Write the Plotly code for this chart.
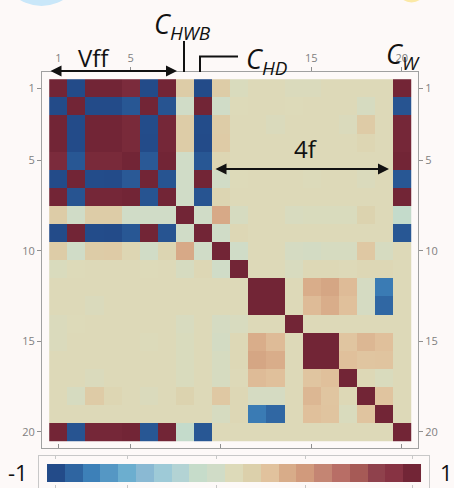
import plotly.graph_objects as go

# ---------------- data ----------------
labels = [1, 2, 3, 4, 5, 6, 7, 8, 9, 10, 11, 12, 13, 14, 15, 16, 17, 18, 19, 20]
tick_vals = [1, 5, 10, 15, 20]
top_tick_text = ["1", "5", "", "15", "20"]
side_tick_text = ["1", "5", "10", "15", "20"]

r01 = [1.00, -0.96, 0.96, 0.96, 0.91, -0.96, 0.95, 0.12, -0.96, 0.12, -0.03, 0.01, 0.01, -0.02, -0.02, 0.01, 0.01, 0.01, 0.01, 0.95]
r02 = [-0.96, 1.00, -0.96, -0.96, -0.91, 0.96, -0.92, -0.10, 0.96, -0.10, 0.00, 0.01, 0.01, 0.00, 0.01, 0.01, 0.01, -0.05, 0.01, -0.92]
r03 = [0.96, -0.96, 1.00, 0.97, 0.92, -0.95, 0.94, 0.12, -0.95, 0.12, 0.01, 0.01, -0.02, 0.01, 0.01, 0.01, -0.02, 0.13, 0.01, 0.94]
r04 = [0.96, -0.96, 0.97, 1.00, 0.92, -0.96, 0.94, 0.12, -0.96, 0.13, 0.01, 0.01, 0.01, 0.01, 0.01, 0.01, 0.01, 0.04, 0.01, 0.94]
r05 = [0.91, -0.91, 0.92, 0.92, 1.00, -0.90, 0.97, -0.10, -0.91, 0.04, 0.01, 0.01, 0.01, 0.01, 0.01, 0.01, 0.01, 0.01, 0.01, 0.97]
r06 = [-0.96, 0.96, -0.95, -0.96, -0.90, 1.00, -0.92, -0.10, 0.96, -0.09, 0.00, 0.01, 0.01, 0.01, -0.01, 0.01, 0.01, -0.02, 0.01, -0.91]
r07 = [0.95, -0.92, 0.94, 0.94, 0.97, -0.92, 1.00, -0.10, -0.92, 0.05, 0.01, 0.01, 0.01, 0.01, 0.01, 0.01, 0.01, 0.01, 0.01, 0.97]
r08 = [0.12, -0.10, 0.12, 0.12, -0.10, -0.10, -0.10, 1.00, -0.10, 0.30, -0.05, 0.01, 0.01, -0.04, -0.03, -0.03, -0.03, 0.07, 0.01, -0.20]
r09 = [-0.96, 0.96, -0.95, -0.96, -0.91, 0.96, -0.92, -0.10, 1.00, -0.10, 0.03, 0.01, 0.01, 0.01, 0.01, 0.01, 0.01, 0.01, 0.01, -0.91]
r10 = [0.12, -0.10, 0.12, 0.13, 0.04, -0.09, 0.05, 0.30, -0.10, 1.00, -0.10, 0.01, 0.01, -0.06, -0.07, -0.05, -0.05, 0.15, -0.05, 0.01]
r11 = [-0.03, 0.00, 0.01, 0.01, 0.01, 0.00, 0.01, -0.05, 0.03, -0.10, 1.00, 0.01, 0.01, -0.04, 0.02, 0.02, 0.01, 0.03, 0.03, 0.01]
r12 = [0.01, 0.01, 0.01, 0.01, 0.01, 0.01, 0.01, 0.01, 0.01, 0.01, 0.01, 1.00, 0.97, 0.01, 0.28, 0.32, 0.22, -0.06, -0.78, 0.01]
r13 = [0.01, 0.01, -0.02, 0.01, 0.01, 0.01, 0.01, 0.01, 0.01, 0.01, 0.01, 0.97, 1.00, 0.01, 0.22, 0.28, 0.20, -0.06, -0.85, 0.01]
r14 = [-0.02, 0.00, 0.01, 0.01, 0.01, 0.01, 0.01, -0.04, 0.01, -0.06, -0.04, 0.01, 0.01, 1.00, 0.01, 0.01, 0.01, 0.01, 0.01, 0.01]
r15 = [-0.02, 0.01, 0.01, 0.01, 0.01, -0.01, 0.01, -0.03, 0.01, -0.07, 0.02, 0.28, 0.22, 0.01, 1.00, 0.96, 0.17, 0.24, 0.20, 0.01]
r16 = [0.01, 0.01, 0.01, 0.01, 0.01, 0.01, 0.01, -0.03, 0.01, -0.05, 0.02, 0.32, 0.28, 0.01, 0.96, 1.00, 0.20, 0.17, 0.18, 0.01]
r17 = [0.01, 0.01, -0.02, 0.01, 0.01, 0.01, 0.01, -0.03, 0.01, -0.05, 0.01, 0.22, 0.20, 0.01, 0.17, 0.20, 1.00, 0.02, -0.03, 0.01]
r18 = [0.01, -0.05, 0.13, 0.04, 0.01, -0.02, 0.01, 0.07, 0.01, 0.15, 0.03, -0.06, -0.06, 0.01, 0.24, 0.17, 0.02, 1.00, 0.18, 0.01]
r19 = [0.01, 0.01, 0.01, 0.01, 0.01, 0.01, 0.01, 0.01, 0.01, -0.05, 0.03, -0.78, -0.85, 0.01, 0.20, 0.18, -0.03, 0.18, 1.00, 0.01]
r20 = [0.95, -0.92, 0.94, 0.94, 0.97, -0.91, 0.97, -0.20, -0.91, 0.01, 0.01, 0.01, 0.01, 0.01, 0.01, 0.01, 0.01, 0.01, 0.01, 1.00]
corr = [r01, r02, r03, r04, r05, r06, r07, r08, r09, r10,
        r11, r12, r13, r14, r15, r16, r17, r18, r19, r20]

# colour legend: 21 discrete steps from -1 to 1
legend_steps = [0, 1, 2, 3, 4, 5, 6, 7, 8, 9, 10, 11, 12, 13, 14, 15, 16, 17, 18, 19, 20]
legend_colors = ["#234b89", "#2f65a1", "#3d80b8", "#5597c4", "#6caecf", "#8ab9d3",
                 "#9ecad7", "#b3d3d4", "#c6dcca", "#d0dcc7", "#dddab9", "#dcd0ab",
                 "#e1c29d", "#d8ac89", "#d19a7c", "#c48573", "#b86e66", "#a65a56",
                 "#8f414c", "#873343", "#722536"]

# ---------------- styling helpers ----------------
W, H = 454, 488
n = len(legend_colors)
cs_main = [[0.0, legend_colors[0]]]
for k, c in enumerate(legend_colors):
    cs_main.append([(k + 0.5) / n, c])
cs_main.append([1.0, legend_colors[-1]])
cs_leg = [[k / (n - 1), c] for k, c in enumerate(legend_colors)]


def px(x):
    return x / W


def py(y):
    return 1 - y / H


BG = "#fdf9f8"
TICK_FONT = dict(family="Open Sans", size=11, color="#808080")
ANN_FONT = dict(family="Open Sans", size=24, color="#111111")
C_FONT = dict(family="Open Sans", size=27, color="#111111")

fig = go.Figure()
fig.add_trace(go.Heatmap(z=corr, x=labels, y=labels, colorscale=cs_main,
                         zmin=-1, zmax=1, showscale=False, hoverinfo="z"))
fig.add_trace(go.Scatter(x=[None], y=[None], xaxis="x2", yaxis="y2",
                         showlegend=False, hoverinfo="skip"))
fig.add_trace(go.Heatmap(z=[legend_steps], x=legend_steps, y=[0], colorscale=cs_leg,
                         zmin=legend_steps[0], zmax=legend_steps[-1], showscale=False,
                         xaxis="x3", yaxis="y3", hoverinfo="skip"))

xdom = [px(42), px(418)]
ydom = [py(448), py(72)]
rng = [0.1, 20.9]

fig.update_layout(
    width=W, height=H,
    margin=dict(l=0, r=0, t=0, b=0),
    paper_bgcolor=BG, plot_bgcolor=BG,
    showlegend=False,
    xaxis=dict(domain=xdom, range=rng, tickvals=tick_vals, showticklabels=False,
               ticks="inside", ticklen=4, tickcolor="#909090",
               showline=True, mirror=True, linecolor="#a0a0a0", linewidth=1,
               showgrid=False, zeroline=False, anchor="y"),
    xaxis2=dict(overlaying="x", side="top", range=rng, tickvals=tick_vals,
                ticktext=top_tick_text, ticks="outside", ticklen=4, tickcolor="#909090",
                tickfont=TICK_FONT, showline=False, showgrid=False, zeroline=False,
                anchor="y", ticklabelstandoff=1),
    yaxis=dict(domain=ydom, range=[20.9, 0.1], tickvals=tick_vals, ticktext=side_tick_text,
               ticks="outside", ticklen=4, tickcolor="#909090", tickfont=TICK_FONT,
               showline=True, mirror=True, linecolor="#a0a0a0", linewidth=1,
               showgrid=False, zeroline=False, anchor="x"),
    yaxis2=dict(overlaying="y", side="right", range=[20.9, 0.1], tickvals=tick_vals,
                ticktext=side_tick_text, ticks="outside", ticklen=4, tickcolor="#909090",
                tickfont=TICK_FONT, showline=False, showgrid=False, zeroline=False,
                anchor="x"),
    xaxis3=dict(domain=[px(39), px(429)], range=[-0.95, 20.95], tickvals=[0, 4, 9, 14, 20],
                showticklabels=False, ticks="inside", ticklen=3, tickcolor="#c8c8c8",
                showline=True, mirror="ticks", linecolor="#c8c8c8", showgrid=False,
                zeroline=False, anchor="y3"),
    yaxis3=dict(domain=[0, py(456)], range=[-0.833, 0.944], showticklabels=False,
                showline=True, mirror=True, linecolor="#c8c8c8", showgrid=False,
                zeroline=False, anchor="x3", ticks=""),
)

shapes = [
    # decorative circles peeking at the top
    dict(type="circle", xref="paper", yref="paper", x0=px(0), x1=px(83), y0=py(6), y1=py(-77),
         fillcolor="#c9e7f9", line=dict(width=0), layer="below"),
    dict(type="circle", xref="paper", yref="paper", x0=px(397), x1=px(426), y0=py(2.5), y1=py(-27),
         fillcolor="#fbe9a6", line=dict(width=0), layer="below"),
    # C_HWB marker line
    dict(type="line", xref="paper", yref="paper", x0=px(184), x1=px(184), y0=py(41), y1=py(72),
         line=dict(color="#111111", width=2)),
    # C_HD bracket
    dict(type="rect", xref="paper", yref="paper", x0=px(201), x1=px(238), y0=py(57), y1=py(71),
         fillcolor=BG, line=dict(width=0)),
    dict(type="path", xref="paper", yref="paper",
         path=f"M {px(200)},{py(72)} L {px(200)},{py(56.5)} L {px(238)},{py(56.5)}",
         line=dict(color="#111111", width=2)),
]
fig.update_layout(shapes=shapes)

anns = [
    # double arrows
    dict(xref="paper", yref="paper", x=px(177), y=py(71), ax=-128, ay=0, text="",
         showarrow=True, arrowside="end+start", arrowhead=2, startarrowhead=2,
         arrowsize=1.1, startarrowsize=1.1, arrowwidth=2, arrowcolor="#111111"),
    dict(xref="paper", yref="paper", x=px(389), y=py(169), ax=-175, ay=0, text="",
         showarrow=True, arrowside="end+start", arrowhead=2, startarrowhead=2,
         arrowsize=1.1, startarrowsize=1.1, arrowwidth=2, arrowcolor="#111111"),
    # labels
    dict(xref="paper", yref="paper", x=px(94), y=py(58), text="Vff", showarrow=False,
         font=ANN_FONT, xanchor="center", yanchor="middle"),
    dict(xref="paper", yref="paper", x=px(306), y=py(148), text="4f", showarrow=False,
         font=ANN_FONT, xanchor="center", yanchor="middle"),
    dict(xref="paper", yref="paper", x=px(152), y=py(25), text="<i>C</i><sub><i>HWB</i></sub>",
         showarrow=False, font=C_FONT, xanchor="left", yanchor="middle"),
    dict(xref="paper", yref="paper", x=px(244), y=py(60), text="<i>C</i><sub><i>HD</i></sub>",
         showarrow=False, font=C_FONT, xanchor="left", yanchor="middle"),
    dict(xref="paper", yref="paper", x=px(384), y=py(55), text="<i>C</i><sub><i>W</i></sub>",
         showarrow=False, font=C_FONT, xanchor="left", yanchor="middle"),
    # legend end labels
    dict(xref="paper", yref="paper", x=px(18), y=py(472), text="-1", showarrow=False,
         font=dict(family="Open Sans", size=22, color="#111111"), xanchor="center", yanchor="middle"),
    dict(xref="paper", yref="paper", x=px(446), y=py(472), text="1", showarrow=False,
         font=dict(family="Open Sans", size=22, color="#111111"), xanchor="center", yanchor="middle"),
]
fig.update_layout(annotations=anns)

fig.write_html("out.html", config={"displayModeBar": False},
               post_script="document.body.style.margin='0';document.body.style.background='#fdf9f8';")
